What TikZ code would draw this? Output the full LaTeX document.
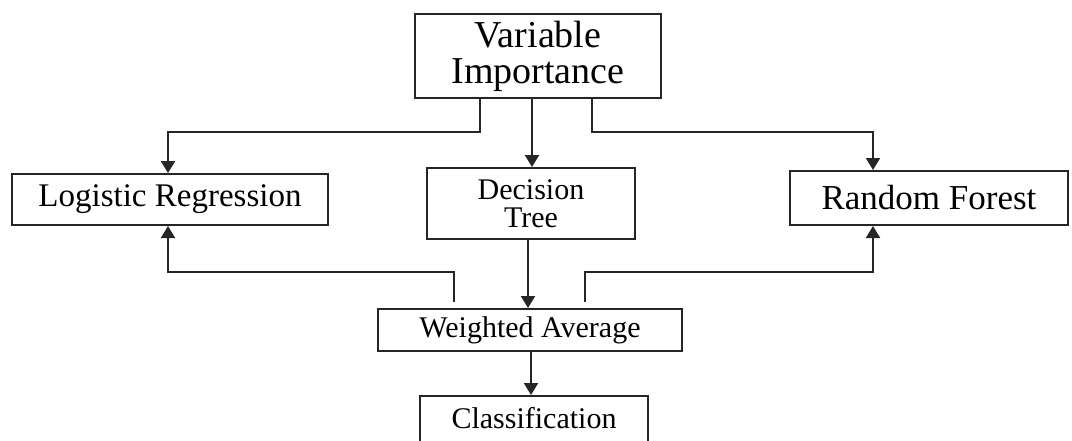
\documentclass[tikz,border=0pt]{standalone}
\usepackage{fontspec}
\setmainfont{Liberation Serif}
\usetikzlibrary{arrows.meta}

\begin{document}
\begin{tikzpicture}[x=0.5pt, y=-0.5pt,
  box/.style={draw=black!85, line width=1pt, rectangle, inner sep=0pt, align=center},
  arr/.style={draw=black!85, line width=1pt, -{Triangle[width=7pt,length=6pt]}},
  link/.style={draw=black!85, line width=1pt}]
\useasboundingbox (0,0) rectangle (1072,440);
\node[box, minimum width=123pt, minimum height=42pt, font=\fontsize{19}{18}\selectfont] (vi) at (538,56) {Variable\\Importance};
\node[box, minimum width=158pt, minimum height=25.5pt, font=\fontsize{16.5}{18}\selectfont] (lr) at (170,199.5) {Logistic Regression};
\node[box, minimum width=104pt, minimum height=35.5pt, font=\fontsize{15}{14}\selectfont] (dt) at (531,203.5) {Decision\\Tree};
\node[box, minimum width=139pt, minimum height=27pt, font=\fontsize{17.5}{18}\selectfont] (rf) at (929,198) {Random Forest};
\node[box, minimum width=152pt, minimum height=21pt, font=\fontsize{15}{16}\selectfont] (wa) at (530,330) {\raisebox{-2.5pt}{Weighted Average}};
\node[box, minimum width=114pt, minimum height=25pt, font=\fontsize{15}{16}\selectfont] (cl) at (534,421) {\raisebox{3pt}{Classification}};
% from Variable Importance
\draw[arr] (vi.south -| 480,0) -- (480,132) -| (lr.north -| 168,0);
\draw[arr] (vi.south -| 532,0) -- (dt.north -| 532,0);
\draw[arr] (vi.south -| 592,0) -- (592,132) -| (rf.north -| 873,0);
% feedback from Weighted Average
\coordinate (wal) at (454,302);
\coordinate (war) at (585,302);
\draw[arr] (wal) -- (454,272) -| (lr.south -| 168,0);
\draw[arr] (war) -- (585,272) -| (rf.south -| 873,0);
% down the middle
\draw[arr] (dt.south -| 528,0) -- (wa.north -| 528,0);
\draw[arr] (wa.south -| 531,0) -- (cl.north -| 531,0);
\end{tikzpicture}
\end{document}
